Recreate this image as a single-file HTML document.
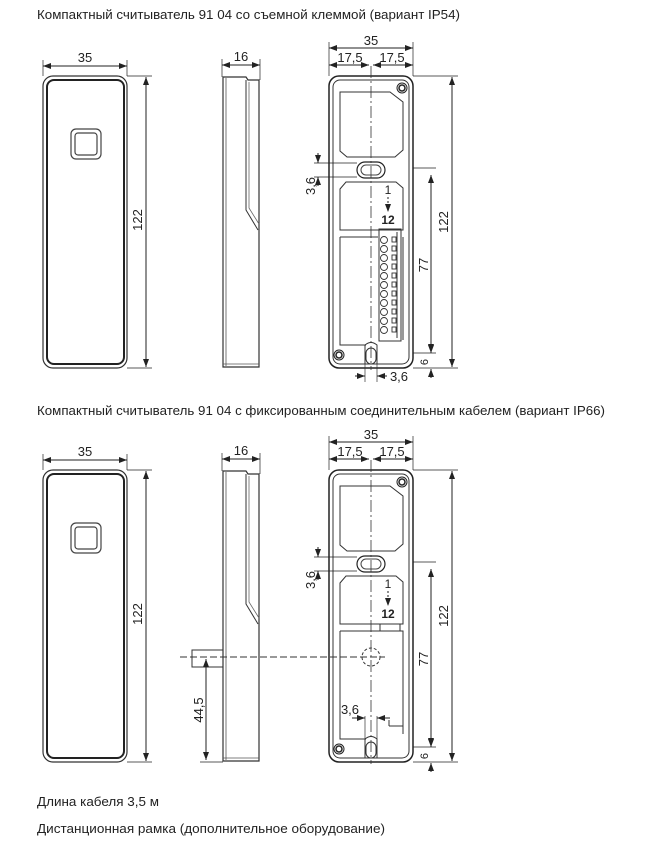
<!DOCTYPE html>
<html><head><meta charset="utf-8"><style>
html,body{margin:0;padding:0;background:#fff;}
svg{display:block;}
text{font-family:"Liberation Sans",sans-serif;fill:#222;}
.t{font-size:13px;}
.d{font-size:13px;}
</style></head><body>
<svg width="645" height="854" viewBox="0 0 645 854" xmlns="http://www.w3.org/2000/svg">
<defs>
<marker id="a" markerWidth="8" markerHeight="6" refX="8" refY="3" orient="auto-start-reverse" markerUnits="userSpaceOnUse"><path d="M0,0 L8,3 L0,6 z" fill="#222"/></marker>
<g id="front">
  <rect x="43" y="76" width="84" height="292" rx="10" fill="none" stroke="#333" stroke-width="1.2"/>
  <rect x="47" y="80" width="77" height="284" rx="7" fill="none" stroke="#222" stroke-width="2"/>
  <rect x="71" y="129" width="30" height="30" rx="5" fill="none" stroke="#444" stroke-width="1.2"/>
  <rect x="75" y="133" width="22" height="22" rx="3" fill="none" stroke="#444" stroke-width="1.2"/>
  <line x1="43" y1="66" x2="127" y2="66" stroke="#222" marker-start="url(#a)" marker-end="url(#a)"/>
  <line x1="43" y1="60" x2="43" y2="76" stroke="#222" stroke-width=".7"/>
  <line x1="127" y1="60" x2="127" y2="76" stroke="#222" stroke-width=".7"/>
  <text class="d" x="85" y="62" text-anchor="middle">35</text>
  <line x1="127" y1="76" x2="152" y2="76" stroke="#222" stroke-width=".7"/>
  <line x1="127" y1="368" x2="152" y2="368" stroke="#222" stroke-width=".7"/>
  <line x1="146" y1="77" x2="146" y2="367" stroke="#222" marker-start="url(#a)" marker-end="url(#a)"/>
  <text class="d" transform="translate(142,220) rotate(-90)" text-anchor="middle">122</text>
</g>
<g id="side">
  <path d="M223,77 L246,77 L248,80 L259,80 L259,367 L223,367 Z" fill="none" stroke="#333" stroke-width="1.2"/>
  <path d="M226,78 L226,366" stroke="#555" stroke-width=".8"/>
  <path d="M246,80 L246,210 L258,230" fill="none" stroke="#333" stroke-width="1"/>
  <path d="M249,82 L249,208 L259,224" fill="none" stroke="#666" stroke-width=".8"/>
  <line x1="223" y1="364" x2="259" y2="364" stroke="#555" stroke-width=".8"/>
  <line x1="222" y1="65" x2="260" y2="65" stroke="#222" marker-start="url(#a)" marker-end="url(#a)"/>
  <line x1="222" y1="59" x2="222" y2="77" stroke="#222" stroke-width=".7"/>
  <line x1="260" y1="59" x2="260" y2="80" stroke="#222" stroke-width=".7"/>
  <text class="d" x="241" y="61" text-anchor="middle">16</text>
</g>
<g id="back">
  <rect x="329" y="76" width="84" height="292" rx="10" fill="none" stroke="#222" stroke-width="1.5"/>
  <rect x="333" y="80" width="76" height="284" rx="7" fill="none" stroke="#333" stroke-width="1"/>
  <path d="M340,92 L390,92 L403,102 L403,150 L395,157 L347,157 L340,151 Z" fill="none" stroke="#333"/>
  <path d="M340,189 L346,182 L396,182 L403,188 L403,230 L340,230 Z" fill="none" stroke="#333"/>
  <rect x="357" y="162" width="28" height="16" rx="8" fill="none" stroke="#222" stroke-width="1.2"/>
  <rect x="361" y="165" width="20" height="10" rx="5" fill="none" stroke="#444"/>
  <circle cx="402" cy="88" r="5" fill="none" stroke="#222"/><circle cx="402" cy="88" r="3" fill="none" stroke="#222" stroke-width="1.5"/>
  <circle cx="339" cy="355" r="5" fill="none" stroke="#222"/><circle cx="339" cy="355" r="3" fill="none" stroke="#222" stroke-width="1.5"/>
  <line x1="371" y1="66" x2="371" y2="370" stroke="#333" stroke-width=".8" stroke-dasharray="12,3,2,3"/>
  <line x1="329" y1="42" x2="329" y2="76" stroke="#222" stroke-width=".7"/>
  <line x1="413" y1="42" x2="413" y2="76" stroke="#222" stroke-width=".7"/>
  <line x1="329" y1="48" x2="413" y2="48" stroke="#222" marker-start="url(#a)" marker-end="url(#a)"/>
  <text class="d" x="371" y="45" text-anchor="middle">35</text>
  <line x1="329" y1="65" x2="369" y2="65" stroke="#222" marker-start="url(#a)" marker-end="url(#a)"/>
  <line x1="373" y1="65" x2="413" y2="65" stroke="#222" marker-start="url(#a)" marker-end="url(#a)"/>
  <text class="d" x="350" y="62" text-anchor="middle">17,5</text>
  <text class="d" x="392" y="62" text-anchor="middle">17,5</text>
  <line x1="413" y1="76" x2="458" y2="76" stroke="#222" stroke-width=".7"/>
  <line x1="413" y1="368" x2="458" y2="368" stroke="#222" stroke-width=".7"/>
  <line x1="452" y1="77" x2="452" y2="367" stroke="#222" marker-start="url(#a)" marker-end="url(#a)"/>
  <text class="d" transform="translate(448,222) rotate(-90)" text-anchor="middle">122</text>
  <line x1="413" y1="168" x2="436" y2="168" stroke="#222" stroke-width=".7"/>
  <line x1="413" y1="353" x2="436" y2="353" stroke="#222" stroke-width=".7"/>
  <line x1="431" y1="175" x2="431" y2="352" stroke="#222" marker-start="url(#a)" marker-end="url(#a)"/>
  <text class="d" transform="translate(428,265) rotate(-90)" text-anchor="middle">77</text>
  <line x1="431" y1="346" x2="431" y2="353" stroke="#222" marker-end="url(#a)"/>
  <line x1="431" y1="378" x2="431" y2="369" stroke="#222" marker-end="url(#a)"/>
  <text class="d" transform="translate(428,362) rotate(-90)" text-anchor="middle" style="font-size:11px">6</text>
  <line x1="314" y1="163" x2="357" y2="163" stroke="#222" stroke-width=".7"/>
  <line x1="314" y1="177" x2="357" y2="177" stroke="#222" stroke-width=".7"/>
  <line x1="318" y1="153" x2="318" y2="163" stroke="#222" marker-end="url(#a)"/>
  <line x1="318" y1="186" x2="318" y2="177" stroke="#222" marker-end="url(#a)"/>
  <text class="d" transform="translate(315,186) rotate(-90)" text-anchor="middle">3,6</text>
  <text class="d" x="388" y="194" text-anchor="middle" style="font-size:12px">1</text>
  <line x1="388" y1="197" x2="388" y2="212" stroke="#222" stroke-dasharray="2,2" marker-end="url(#a)"/>
  <text class="d" x="388" y="224" text-anchor="middle" style="font-weight:bold;font-size:12px">12</text>
</g>
</defs>

<text class="t" x="37" y="19" textLength="423" lengthAdjust="spacingAndGlyphs">Компактный считыватель 91 04 со съемной клеммой (вариант IP54)</text>
<use href="#front"/><use href="#side"/><use href="#back"/>
<g fill="none" stroke="#333">
  <path d="M340,237 L378,237 M340,237 L340,345 L366,345"/>
  <path d="M403,237 L403,340"/>
  <rect x="379" y="229" width="22" height="112"/>
  <line x1="397" y1="232" x2="397" y2="338"/>
  <g stroke-width=".9">
  <circle cx="384" cy="240" r="3.5"/><circle cx="384" cy="249" r="3.5"/><circle cx="384" cy="258" r="3.5"/><circle cx="384" cy="267" r="3.5"/><circle cx="384" cy="276" r="3.5"/><circle cx="384" cy="285" r="3.5"/><circle cx="384" cy="294" r="3.5"/><circle cx="384" cy="303" r="3.5"/><circle cx="384" cy="312" r="3.5"/><circle cx="384" cy="321" r="3.5"/><circle cx="384" cy="330" r="3.5"/>
  <rect x="392" y="237" width="4" height="5"/><rect x="392" y="246" width="4" height="5"/><rect x="392" y="255" width="4" height="5"/><rect x="392" y="264" width="4" height="5"/><rect x="392" y="273" width="4" height="5"/><rect x="392" y="282" width="4" height="5"/><rect x="392" y="291" width="4" height="5"/><rect x="392" y="300" width="4" height="5"/><rect x="392" y="309" width="4" height="5"/><rect x="392" y="318" width="4" height="5"/><rect x="392" y="327" width="4" height="5"/>
  </g>
  <path d="M365,364 L365,345 Q371,340 377,345 L377,364"/>
  <rect x="366" y="348" width="10" height="16" rx="5"/>
  <line x1="365" y1="364" x2="365" y2="382" stroke-width=".7"/>
  <line x1="377" y1="364" x2="377" y2="382" stroke-width=".7"/>
</g>
<line x1="355" y1="376" x2="365" y2="376" stroke="#222" marker-end="url(#a)"/>
<line x1="387" y1="376" x2="377" y2="376" stroke="#222" marker-end="url(#a)"/>
<text class="d" x="399" y="381" text-anchor="middle">3,6</text>

<text class="t" x="37" y="415" textLength="568" lengthAdjust="spacingAndGlyphs">Компактный считыватель 91 04 с фиксированным соединительным кабелем (вариант IP66)</text>
<g transform="translate(0,394)"><use href="#front"/><use href="#side"/><use href="#back"/></g>
<g fill="none" stroke="#333">
  <path d="M340,631 L340,739 L366,739 M340,631 L403,631 L403,734"/>
  <path d="M380,624 L400,624 L400,631 M380,624 L380,631"/>
  <circle cx="371" cy="657" r="9" stroke-dasharray="3,2"/>
  <path d="M389,726 L403,726 M389,720 L389,726"/>
  <path d="M365,758 L365,739 Q371,734 377,739 L377,758"/>
  <rect x="366" y="742" width="10" height="16" rx="5"/>
  <line x1="365" y1="716" x2="365" y2="739" stroke-width=".7"/>
  <line x1="377" y1="716" x2="377" y2="739" stroke-width=".7"/>
  <rect x="192" y="650" width="31" height="17"/>
</g>
<line x1="180" y1="657" x2="385" y2="657" stroke="#333" stroke-dasharray="7,3"/>
<line x1="352" y1="718" x2="365" y2="718" stroke="#222" marker-end="url(#a)"/>
<line x1="390" y1="718" x2="377" y2="718" stroke="#222" marker-end="url(#a)"/>
<text class="d" x="350" y="714" text-anchor="middle">3,6</text>
<line x1="206" y1="760" x2="206" y2="659" stroke="#222" marker-start="url(#a)" marker-end="url(#a)"/>
<line x1="200" y1="762" x2="223" y2="762" stroke="#222" stroke-width=".7"/>
<text class="d" transform="translate(203,710) rotate(-90)" text-anchor="middle">44,5</text>

<text class="t" x="37" y="806" textLength="122" lengthAdjust="spacingAndGlyphs">Длина кабеля 3,5 м</text>
<text class="t" x="37" y="833" textLength="348" lengthAdjust="spacingAndGlyphs">Дистанционная рамка (дополнительное оборудование)</text>
</svg>
</body></html>
